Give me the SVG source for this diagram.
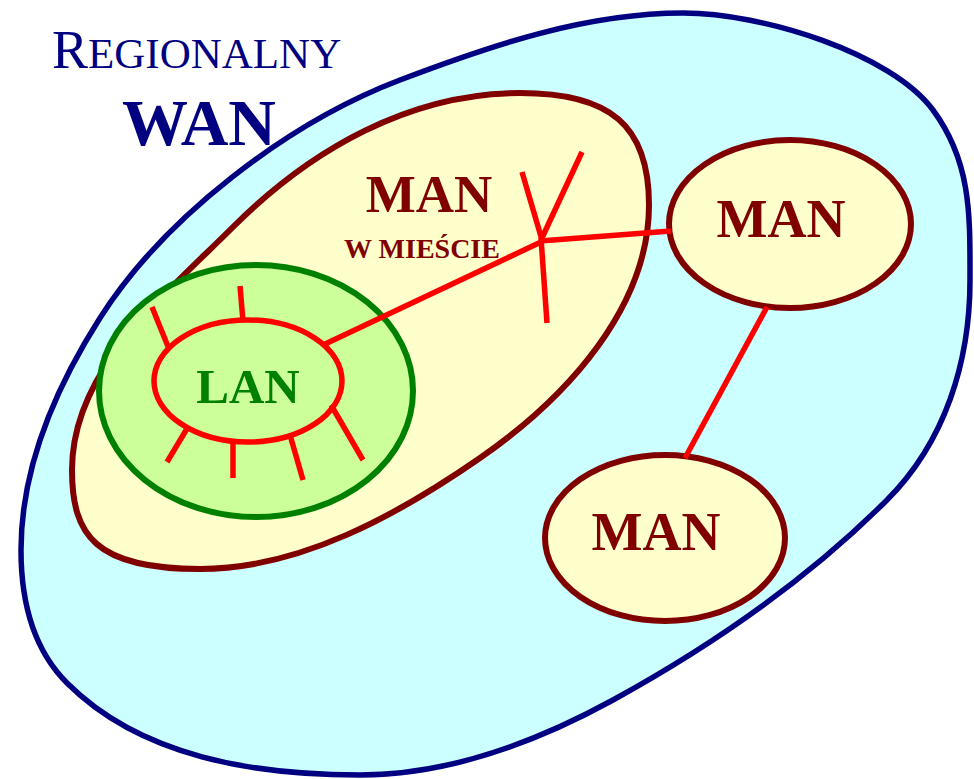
<svg xmlns="http://www.w3.org/2000/svg" width="974" height="779" viewBox="0 0 974 779">
  <style>
    .wan { fill: #CCFFFF; stroke: #000080; stroke-width: 5.5; }
    .man { fill: #FFFFCC; stroke: #800000; stroke-width: 6; }
    .lan { fill: #CCFF99; stroke: #008000; stroke-width: 6; }
    .link { fill: none; stroke: #FF0000; stroke-width: 5.5; stroke-linecap: butt; }
    .serif { font-family: "Liberation Serif", "Times New Roman", serif; }
    .manText { fill: #800000; font-weight: bold; text-anchor: middle; }
    .title { fill: #000080; }
  </style>

  <!-- Regional WAN area -->
  <g id="wan">
    <path class="wan" d="M21,550 C21,468 56,387 100,318 C164.4,216.8 288,122.7 400,80 C490.6,45.5 586,13 683,13 C763,13 891.5,53.7 933,110 C971.5,162.3 970,215 970,280 C970,362 945,442 887,500 C807.1,579.9 712.1,645.6 613,700 C535.8,742.3 448,775 360,775 C255,775 141.2,757.2 67,683 C31.6,647.6 21,600 21,550 Z"/>
    <text class="serif title" x="52" y="68"><tspan font-size="54">R</tspan><tspan font-size="43">EGIONALNY</tspan></text>
    <text class="serif title" x="122" y="145" font-size="66" font-weight="bold">WAN</text>
  </g>

  <!-- City MAN -->
  <g id="man-city">
    <path class="man" d="M72,470 C72,370 162.3,297.7 233,227 C310.8,149.2 410,93 520,93 C610,93 649,125 649,205 C649,305 570.4,395.3 480,458 C397.8,515 300,569 200,569 C95,569 72,535 72,470 Z"/>
    <text class="serif manText" x="429" y="212" font-size="53">MAN</text>
    <text class="serif manText" x="422" y="258" font-size="28">W MIEŚCIE</text>
  </g>

  <!-- LAN inside the city -->
  <g id="lan">
    <ellipse class="lan" cx="256" cy="391" rx="157" ry="126"/>
    <ellipse class="link" cx="248" cy="381" rx="94" ry="61"/>
    <text class="serif" x="248" y="403" font-size="49" font-weight="bold" fill="#008000" text-anchor="middle">LAN</text>
  </g>

  <!-- Neighbouring MANs -->
  <g id="man-east">
    <ellipse class="man" cx="790" cy="224" rx="121" ry="84"/>
    <text class="serif manText" x="781" y="237" font-size="54">MAN</text>
  </g>
  <g id="man-south">
    <ellipse class="man" cx="665" cy="538" rx="120" ry="83"/>
    <text class="serif manText" x="656" y="550" font-size="54">MAN</text>
  </g>

  <!-- Links -->
  <g id="connectors" class="link">
    <!-- LAN stations -->
    <line x1="152" y1="307" x2="169" y2="349"/>
    <line x1="240" y1="286" x2="243" y2="321"/>
    <line x1="167" y1="462" x2="188" y2="427"/>
    <line x1="233" y1="478" x2="233" y2="441"/>
    <line x1="303" y1="480" x2="290" y2="435"/>
    <line x1="363" y1="460" x2="331" y2="405"/>
    <!-- LAN to city hub -->
    <line x1="323" y1="345" x2="541" y2="242"/>
    <!-- city hub branches -->
    <line x1="522" y1="172" x2="542" y2="240"/>
    <line x1="582" y1="152" x2="541" y2="240"/>
    <line x1="541" y1="238" x2="547" y2="323"/>
    <!-- hub to eastern MAN -->
    <line x1="540" y1="241" x2="671" y2="231"/>
    <!-- eastern MAN to southern MAN -->
    <line x1="767" y1="307" x2="685" y2="458"/>
  </g>
</svg>
